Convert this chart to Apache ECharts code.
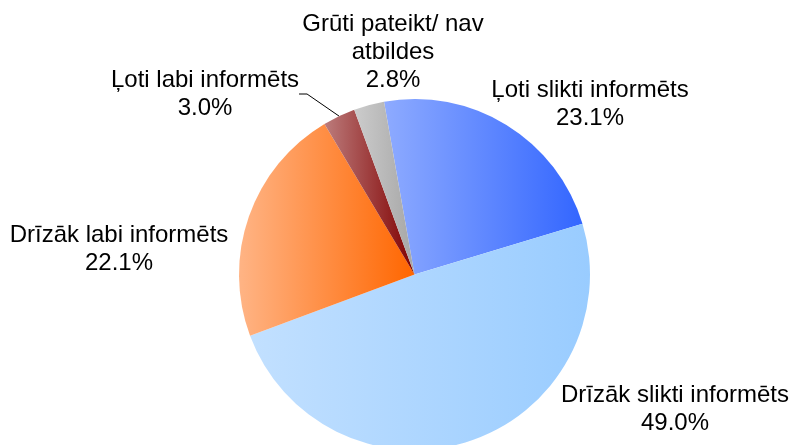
<!DOCTYPE html>
<html>
<head>
<meta charset="utf-8">
<script src="https://cdn.jsdelivr.net/npm/echarts@6/dist/echarts.min.js"></script>
<style>
html,body{margin:0;padding:0;background:#fff;}
#chart{width:792px;height:445px;}
</style>
</head>
<body>
<div id="chart"></div>
<script>
const categories = ['Ļoti slikti informēts', 'Drīzāk slikti informēts', 'Drīzāk labi informēts', 'Ļoti labi informēts', 'Grūti pateikt/ nav\natbildes'];
const values = [23.1, 49.0, 22.1, 3.0, 2.8];

const gradients = [
  ['#8eabff', '#3366ff'],
  ['#c2e0ff', '#99ccff'],
  ['#ffb485', '#ff6600'],
  ['#bc7c7c', '#800000'],
  ['#cccccc', '#a6a6a6']
];
const labelCenters = [[590, 104], [675, 409], [119, 249], [205, 94], [393, 52]];

const chart = echarts.init(document.getElementById('chart'), null, {renderer: 'canvas'});
const data = values.map((v, i) => {
  const item = {
    name: categories[i],
    value: v,
    itemStyle: {
      color: new echarts.graphic.LinearGradient(0, 0, 1, 0, [
        {offset: 0, color: gradients[i][0]},
        {offset: 1, color: gradients[i][1]}
      ])
    },
    labelLine: {show: i === 3, lineStyle: {color: '#000', width: 1}}
  };
  if (i !== 3) {
    item.label = {width: 300, overflow: 'none'};
  }
  return item;
});

chart.setOption({
  animation: false,
  series: [{
    type: 'pie',
    center: [414.5, 274.5],
    radius: [0, 175.5],
    startAngle: 100,
    clockwise: true,
    data: data,
    itemStyle: {borderWidth: 0},
    emphasis: {disabled: true},
    label: {
      show: true,
      position: 'outside',
      formatter: p => p.name + '\n' + p.value.toFixed(1) + '%',
      fontFamily: 'Liberation Sans, Arial, sans-serif',
      fontSize: 24,
      lineHeight: 28,
      color: '#000',
      align: 'center'
    },
    labelLine: {show: false, length: 10, length2: 8},
    labelLayout: function (params) {
      const c = labelCenters[params.dataIndex];
      return {x: c[0], y: c[1], align: 'center', verticalAlign: 'middle'};
    }
  }]
});
</script>
</body>
</html>
